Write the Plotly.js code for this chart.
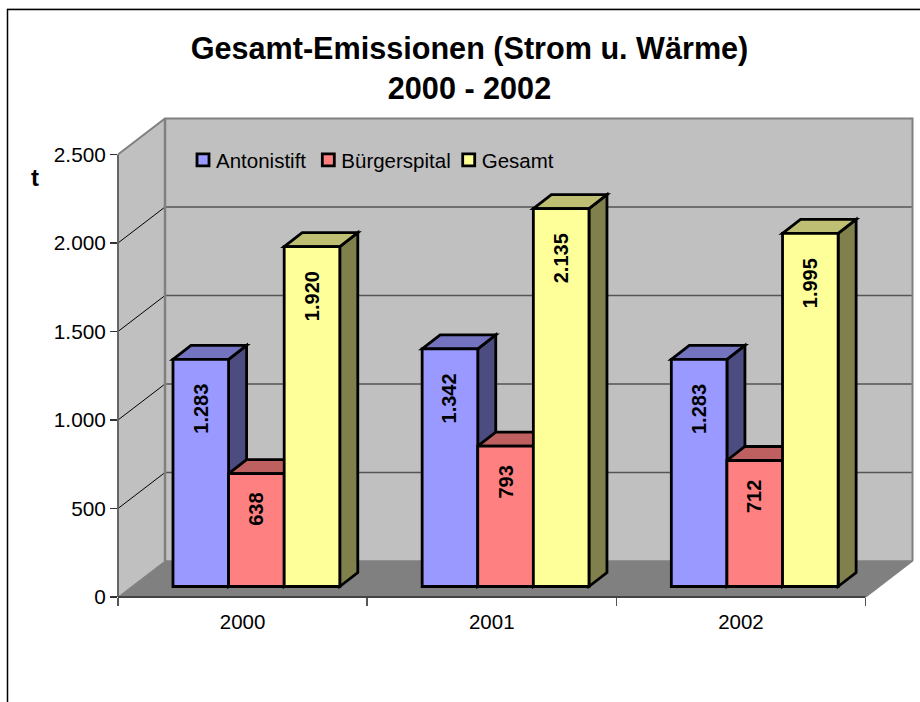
<!DOCTYPE html>
<html><head><meta charset="utf-8">
<script src="https://cdn.plot.ly/plotly-3.0.1.min.js"></script>
<style>html,body{margin:0;padding:0;background:#fff}</style></head>
<body><div id="chart" style="width:920px;height:702px"></div>
<script>
const years = ['2000','2001','2002'];
const antonistift = [1283,1342,1283];
const buergerspital = [638,793,712];
const gesamt = [1920,2135,1995];
const names = ['Antonistift','Bürgerspital','Gesamt'];
const series = [antonistift,buergerspital,gesamt];
const yTicks = [0,500,1000,1500,2000,2500];

const front = ['#9999FF','#FF8080','#FFFF99'];
const topC = ['#7373BF','#BF6060','#BFBF73'];
const side = ['#4C4C80','#804040','#80804C'];

const W=920,H=702,mL=118,mB=105,mT=115,mR=0;
const pxX=249.17, pxY=0.177;
const xMax=(W-mL-mR)/pxX, yMax=(H-mT-mB)/pxY;
const dX=47/pxX, dY=36/pxY;        // depth of the chart box
const barW=55.6/pxX, base=10.5/pxY, shiftX=13.8/pxX;
const bdX=18/pxX, bdY=14/pxY;      // depth of one bar
const edge=2.8;
const de=v=>String(v).replace(/\B(?=(\d{3})+$)/g,'.');
const px=v=>(v-mL)/(W-mL-mR), py=v=>(H-mB-v)/(H-mT-mB);

const poly=(pts)=>'M'+pts.map(p=>p[0]+','+p[1]).join('L')+'Z';
const shapes=[];
// walls and floor
shapes.push({type:'path',layer:'below',xref:'x',yref:'y',path:poly([[0,0],[dX,dY],[dX,2500+dY],[0,2500]]),fillcolor:'#C0C0C0',line:{width:0}});
shapes.push({type:'path',layer:'below',xref:'x',yref:'y',path:poly([[dX,dY],[3+dX,dY],[3+dX,2500+dY],[dX,2500+dY]]),fillcolor:'#C0C0C0',line:{width:0}});
shapes.push({type:'path',layer:'below',xref:'x',yref:'y',path:poly([[0,0],[3,0],[3+dX,dY],[dX,dY]]),fillcolor:'#808080',line:{width:0}});
// gridlines
yTicks.slice(1,-1).forEach(v=>{
  shapes.push({type:'line',layer:'below',xref:'x',yref:'y',x0:0,y0:v,x1:dX,y1:v+dY,line:{color:'#000',width:1}});
  shapes.push({type:'line',layer:'below',xref:'x',yref:'y',x0:dX,y0:v+dY,x1:3+dX,y1:v+dY,line:{color:'#555',width:1.5}});
});
// wall edges
shapes.push({type:'path',layer:'below',xref:'x',yref:'y',path:'M0,2500L'+dX+','+(2500+dY)+'L'+(3+dX)+','+(2500+dY)+'L'+(3+dX)+','+dY,fillcolor:'rgba(0,0,0,0)',line:{color:'#808080',width:2}});
shapes.push({type:'line',layer:'below',xref:'x',yref:'y',x0:dX,y0:dY,x1:dX,y1:2500+dY,line:{color:'#808080',width:2.5}});
shapes.push({type:'line',layer:'below',xref:'x',yref:'y',x0:dX,y0:dY,x1:3+dX,y1:dY,line:{color:'#808080',width:1.5}});
shapes.push({type:'line',layer:'below',xref:'x',yref:'y',x0:3,y0:0,x1:3+dX,y1:dY,line:{color:'#808080',width:1.5}});
shapes.push({type:'line',layer:'below',xref:'x',yref:'y',x0:0,y0:0,x1:dX,y1:dY,line:{color:'#808080',width:1}});
// axis lines
shapes.push({type:'line',layer:'above',xref:'paper',yref:'y',x0:0,y0:0,x1:0,y1:2500,line:{color:'#666',width:2}});
shapes.push({type:'line',layer:'above',xref:'x',yref:'paper',x0:0,y0:0,x1:3,y1:0,line:{color:'#444',width:2}});

// 3D faces of bars, painted left to right
const centers=years.map((_,i)=>i+0.5+shiftX);
years.forEach((_,i)=>{
  series.forEach((s,k)=>{
    const x0=centers[i]+(k-1.5)*barW, x1=x0+barW, t=s[i]+base;
    shapes.push({type:'path',layer:'below',xref:'x',yref:'y',path:poly([[x1,base],[x1+bdX,base+bdY],[x1+bdX,t+bdY],[x1,t]]),fillcolor:side[k],line:{color:'#000',width:edge}});
    shapes.push({type:'path',layer:'below',xref:'x',yref:'y',path:poly([[x0,t],[x1,t],[x1+bdX,t+bdY],[x0+bdX,t+bdY]]),fillcolor:topC[k],line:{color:'#000',width:edge}});
  });
});
// outer frame
shapes.push({type:'line',layer:'above',xref:'paper',yref:'paper',x0:px(7),y0:py(8.5),x1:px(921),y1:py(8.5),line:{color:'#d8d8d8',width:1}});
shapes.push({type:'path',layer:'above',xref:'paper',yref:'paper',path:'M'+px(7.5)+','+py(703)+'L'+px(7.5)+','+py(9.5)+'L'+px(921)+','+py(9.5),fillcolor:'rgba(0,0,0,0)',line:{color:'#000',width:1.5}});

const traces=series.map((s,k)=>({
  type:'bar',name:names[k],x:centers,y:s,base:base,width:barW,
  offset:(k-1.5)*barW,
  marker:{color:front[k],line:{color:'#000',width:edge}},
  hoverinfo:'y+name'
}));

const annotations=[];
years.forEach((_,i)=>{
  series.forEach((s,k)=>{
    const lab=de(s[i]);
    annotations.push({xref:'x',yref:'y',x:centers[i]+(k-1)*barW,y:s[i]+base,text:'<b>'+lab+'</b>',showarrow:false,textangle:-90,
      yanchor:'top',yshift:-(9.5+2.6*lab.length),xanchor:'center',font:{family:'Liberation Sans',size:20,color:'#000'}});
  });
});
annotations.push({xref:'paper',yref:'paper',x:px(35),y:py(177),xanchor:'center',yanchor:'middle',text:'<b>t</b>',showarrow:false,font:{family:'Liberation Sans',size:24,color:'#000'}});

const layout={
  width:W,height:H,autosize:false,
  margin:{l:mL,r:mR,t:mT,b:mB,pad:0},
  paper_bgcolor:'#fff',plot_bgcolor:'rgba(0,0,0,0)',
  separators:',.',
  font:{family:'Liberation Sans',color:'#000'},
  title:{text:'<b>Gesamt-Emissionen (Strom u. Wärme)<br>2000 - 2002</b>',x:469.5/W,xanchor:'center',xref:'container',y:1-59/H,yanchor:'top',yref:'container',font:{family:'Liberation Sans',size:30.6,color:'#000'}},
  barmode:'overlay',
  xaxis:{range:[0,xMax],showgrid:false,zeroline:false,showline:false,tickmode:'array',tickvals:years.map((_,i)=>i+0.5),ticktext:years,ticks:'',ticklabelstandoff:10,
    tickfont:{size:20.5,family:'Liberation Sans',color:'#000'},
    minor:{tickmode:'array',tickvals:[0,1,2,3],ticks:'outside',ticklen:8,tickwidth:1.5,tickcolor:'#555',showgrid:false}},
  yaxis:{range:[0,yMax],showgrid:false,zeroline:false,showline:false,tickmode:'array',tickvals:yTicks,tickformat:',d',ticks:'outside',ticklen:7,tickwidth:1.5,tickcolor:'#333',
    tickfont:{size:20.8,family:'Liberation Sans',color:'#000'}},
  shapes:shapes,annotations:annotations,
  showlegend:true,
  legend:{orientation:'h',x:px(176),y:py(140),xanchor:'left',yanchor:'top',bgcolor:'rgba(0,0,0,0)',borderwidth:0,traceorder:'normal',
    font:{family:'Liberation Sans',size:20.5,color:'#000'},itemwidth:30,itemclick:false,itemdoubleclick:false}
};
const legendPull=[0,-10,-24];
Plotly.newPlot('chart',traces,layout,{displayModeBar:false,staticPlot:true}).then(()=>{
  // tighter legend spacing, as in the original: swatch next to its text
  document.querySelectorAll('.legend .traces').forEach((el,i)=>{
    el.setAttribute('transform','translate('+legendPull[i]+',0) '+(el.getAttribute('transform')||''));
    const pts=el.querySelector('.legendpoints');
    if(pts) pts.setAttribute('transform','translate(7,0) '+(pts.getAttribute('transform')||''));
  });
});
</script></body></html>
